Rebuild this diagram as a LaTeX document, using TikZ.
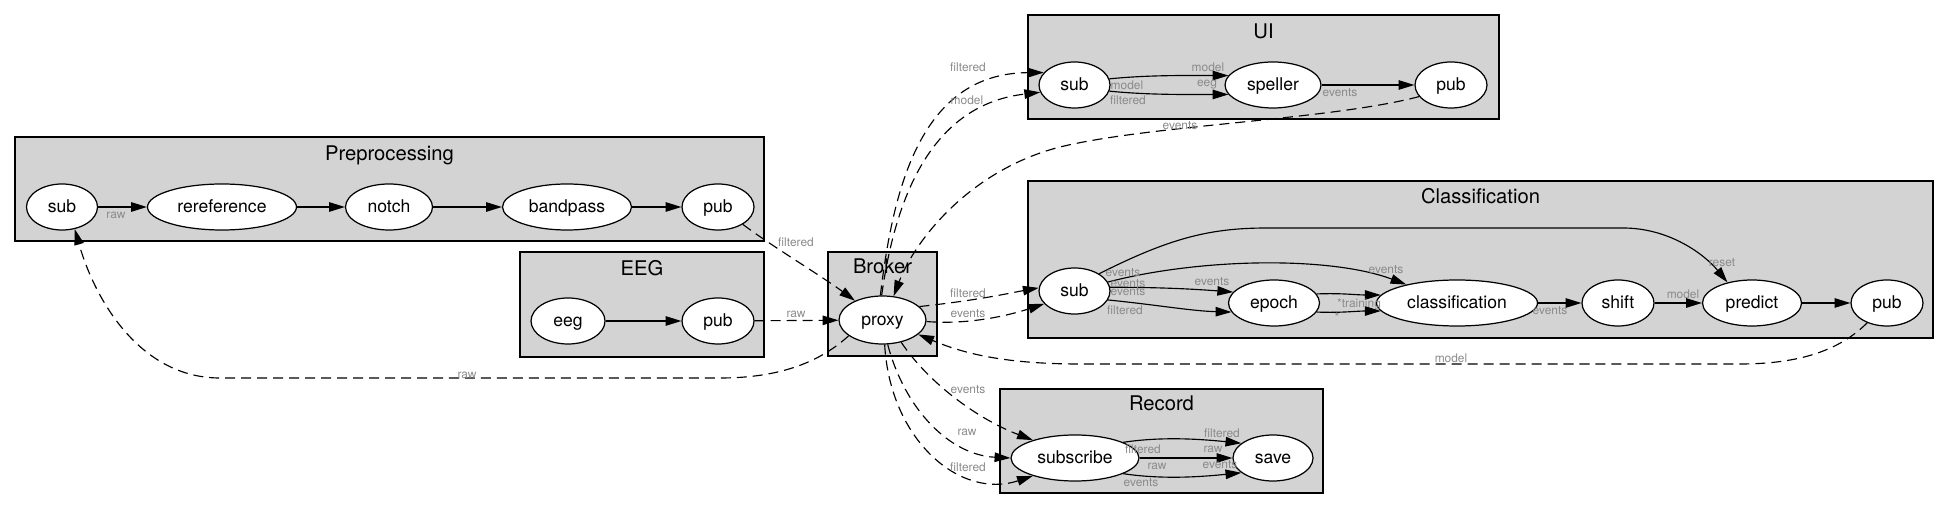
\documentclass[tikz,border=0pt]{standalone}
\usepackage{fontspec}
\setmainfont{TeX Gyre Heros}
\usetikzlibrary{arrows.meta,shapes.geometric}
\definecolor{clfill}{HTML}{D3D3D3}
\definecolor{labgray}{HTML}{8A8A8A}
\begin{document}
\begin{tikzpicture}[x=0.02cm,y=-0.02cm,
  nd/.style={ellipse,draw,fill=white,line width=0.7pt,minimum height=0.92cm,inner sep=0pt,
    font=\fontsize{10}{12}\selectfont,text height=1.6ex,text depth=0.3ex},
  cl/.style={draw,fill=clfill,line width=0.85pt},
  ttl/.style={font=\fontsize{11.5}{13}\selectfont,anchor=base,inner sep=0pt},
  lab/.style={font=\fontsize{6.8}{8}\selectfont,text=labgray,inner sep=0pt},
  e/.style={-{Triangle[length=9pt,width=5.4pt]},line width=0.65pt},
  de/.style={e,dash pattern=on 5.7pt off 3.4pt},
]
\useasboundingbox (0,0) rectangle (1950,509);

% clusters
\draw[cl] (15,137) rectangle (764,241);
\node[ttl] (tprep) at (389.5,161) {Preprocessing};
\draw[cl] (520,252) rectangle (764,357);
\node[ttl] (teeg) at (642,276) {EEG};
\draw[cl] (828,252) rectangle (937,356);
\node[ttl] (tbroker) at (882.5,274) {Broker};
\draw[cl] (1028,15) rectangle (1499,119);
\node[ttl] (tui) at (1263.5,39) {UI};
\draw[cl] (1028,181) rectangle (1933,338);
\node[ttl] (tcls) at (1480.5,204) {Classification};
\draw[cl] (1000,389) rectangle (1323,493);
\node[ttl] (trec) at (1161.5,411) {Record};

% nodes
\node[nd,minimum width=1.42cm] (psub) at (62,207) {sub};
\node[nd,minimum width=2.98cm] (reref) at (222,207) {rereference};
\node[nd,minimum width=1.74cm] (notch) at (389,207) {notch};
\node[nd,minimum width=2.58cm] (bandpass) at (567,207) {bandpass};
\node[nd,minimum width=1.44cm] (ppub) at (718,207) {pub};

\node[nd,minimum width=1.48cm] (eeg) at (568,321) {eeg};
\node[nd,minimum width=1.44cm] (epub) at (718,321) {pub};

\node[nd,minimum width=1.74cm,minimum height=0.96cm] (proxy) at (882.5,320) {proxy};

\node[nd,minimum width=1.42cm] (usub) at (1074.5,85) {sub};
\node[nd,minimum width=1.92cm] (speller) at (1273,85) {speller};
\node[nd,minimum width=1.44cm] (upub) at (1451,85) {pub};

\node[nd,minimum width=1.42cm] (csub) at (1074.5,291) {sub};
\node[nd,minimum width=1.82cm] (epoch) at (1274,303) {epoch};
\node[nd,minimum width=3.22cm] (classif) at (1457,303) {classification};
\node[nd,minimum width=1.44cm] (shift) at (1618,303) {shift};
\node[nd,minimum width=1.98cm] (predict) at (1752,303) {predict};
\node[nd,minimum width=1.44cm] (cpub) at (1887,303) {pub};

\node[nd,minimum width=2.56cm] (subscribe) at (1075,458) {subscribe};
\node[nd,minimum width=1.60cm] (save) at (1273,458) {save};

% solid edges
\draw[e] (psub) -- (reref);
\draw[e] (reref) -- (notch);
\draw[e] (notch) -- (bandpass);
\draw[e] (bandpass) -- (ppub);
\draw[e] (eeg) -- (epub);

\draw[e] (usub.10) .. controls +(40,-4) and +(-40,0) .. (speller.168);
\draw[e] (usub.-10) .. controls +(40,4) and +(-40,0) .. (speller.192);
\draw[e] (speller) -- (upub);

\draw[e] (csub.35) .. controls (1170,238) and (1210,228) .. (1267,228) -- (1623,228)
  .. controls (1670,228) and (1705,255) .. (predict.140);
\draw[e] (csub.15) .. controls (1200,258) and (1330,256) .. (classif.160);
\draw[e] (csub.6) .. controls +(50,0) and +(-40,-3) .. (epoch.165);
\draw[e] (csub.-15) .. controls +(50,5) and +(-40,-1) .. (epoch.192);
\draw[e] (epoch.12) .. controls +(25,-1) and +(-25,0) .. (classif.174);
\draw[e] (epoch.-12) .. controls +(25,1) and +(-25,0) .. (classif.186);
\draw[e] (classif) -- (shift);
\draw[e] (shift) -- (predict);
\draw[e] (predict) -- (cpub);

\draw[e] (subscribe.18) .. controls +(40,-6) and +(-40,-4) .. (save.155);
\draw[e] (subscribe) -- (save);
\draw[e] (subscribe.-18) .. controls +(40,6) and +(-40,4) .. (save.205);

% dashed edges
\draw[de] (ppub.-35) .. controls (770,245) and (820,275) .. (proxy.145);
\draw[de] (epub) -- (proxy);
\draw[de] (proxy.205) .. controls (820,362) and (780,378) .. (720,378) -- (220,378)
  .. controls (140,378) and (95,300) .. (psub.-60);
\draw[de] (proxy.95) .. controls (893,190) and (920,73) .. (usub.158);
\draw[de] (proxy.92) .. controls (895,200) and (930,105) .. (usub.192);
\draw[de] (upub.200) .. controls (1330,120) and (1150,125) .. (1060,147)
  .. controls (970,170) and (915,240) .. (proxy.65);
\draw[de] (proxy.20) .. controls (980,300) and (1010,293) .. (csub.175);
\draw[de] (proxy.-2) .. controls (970,325) and (1010,315) .. (csub.203);
\draw[de] (cpub.225) .. controls (1840,350) and (1800,364) .. (1740,364) -- (1080,364)
  .. controls (1000,364) and (960,352) .. (proxy.-22);
\draw[de] (proxy.-50) .. controls (930,385) and (980,420) .. (subscribe.157);
\draw[de] (proxy.-78) .. controls (905,410) and (950,455) .. (subscribe.west);
\draw[de] (proxy.-85) .. controls (890,440) and (960,500) .. (subscribe.203);

% labels
\node[lab] (l1) at (116,215) {raw};
\node[lab] (l2) at (1208,67) {model};
\node[lab] (l3) at (1127,85) {model};
\node[lab] (l4) at (1207,85) {eeg};
\node[lab] (l5) at (1128,100) {filtered};
\node[lab] (l6) at (1340,93) {events};
\node[lab] (l7) at (1180,126) {events};
\node[lab] (l8) at (968,67) {filtered};
\node[lab] (l9) at (967,100) {model};
\node[lab] (l10) at (796,242) {filtered};
\node[lab] (l11) at (796,314) {raw};
\node[lab] (l12) at (968,293) {filtered};
\node[lab] (l13) at (968,314) {events};
\node[lab] (l14) at (1123,273) {events};
\node[lab] (l15) at (1128,284) {events};
\node[lab] (l16) at (1128,292) {events};
\node[lab] (l17) at (1125,310) {filtered};
\node[lab] (l18) at (1212,282) {events};
\node[lab] (l19) at (1386,270) {events};
\node[lab] (l20) at (1359,304) {*training};
\node[lab] (l21) at (1337,317) {*};
\node[lab] (l22) at (1550,311) {events};
\node[lab] (l23) at (1683,294) {model};
\node[lab] (l24) at (1722,263) {reset};
\node[lab] (l25) at (1451,358) {model};
\node[lab] (l26) at (968,390) {events};
\node[lab] (l27) at (967,432) {raw};
\node[lab] (l28) at (968,467) {filtered};
\node[lab] (l29) at (1222,433) {filtered};
\node[lab] (l30) at (1143,449) {filtered};
\node[lab] (l31) at (1213,449) {raw};
\node[lab] (l32) at (1157,466) {raw};
\node[lab] (l33) at (1220,465) {events};
\node[lab] (l34) at (1141,483) {events};
\node[lab] (l35) at (467,375) {raw};
\end{tikzpicture}
\end{document}
